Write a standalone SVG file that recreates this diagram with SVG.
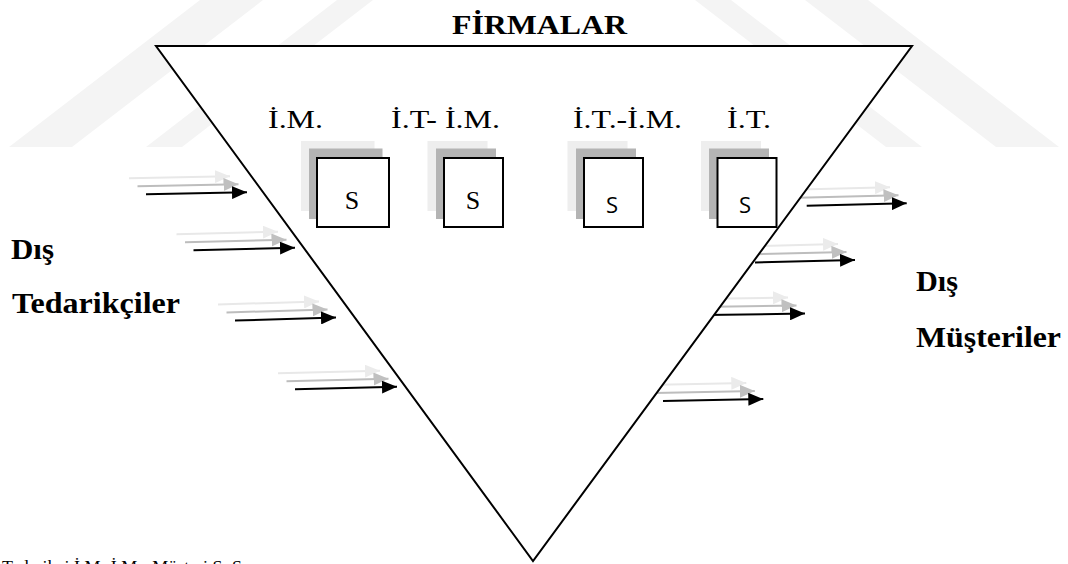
<svg xmlns="http://www.w3.org/2000/svg" width="1068" height="564" viewBox="0 0 1068 564">
  <defs>
    <style>
      .bold { font-family: "Liberation Serif", "Times New Roman", serif; font-weight: bold; fill: #000; }
      .lbl { font-family: "Liberation Serif", "Times New Roman", serif; font-size: 25px; fill: #000; }
      .s-serif { font-family: "Liberation Serif", "Times New Roman", serif; font-size: 26px; fill: #000; text-anchor: middle; }
      .s-sans { font-family: "Open Sans", "Liberation Sans", sans-serif; font-size: 22px; fill: #000; text-anchor: middle; }
      .shade-light { fill: #eeeeee; }
      .shade-mid { fill: #b4b4b4; }
      .box { fill: #ffffff; stroke: #000; stroke-width: 2; }
      .a-black { stroke: #000; stroke-width: 2; fill: none; marker-end: url(#head-black); }
      .a-mid { stroke: #bdbdbd; stroke-width: 2; fill: none; marker-end: url(#head-mid); }
      .a-light { stroke: #e8e8e8; stroke-width: 2; fill: none; marker-end: url(#head-light); }
      .wm { fill: #f4f4f4; }
    </style>
    <marker id="head-black" markerUnits="userSpaceOnUse" markerWidth="15" markerHeight="13" refX="15" refY="6.5" orient="auto">
      <path d="M0,0 L15,6.5 L0,13 z" fill="#000"/>
    </marker>
    <marker id="head-mid" markerUnits="userSpaceOnUse" markerWidth="15" markerHeight="13" refX="15" refY="6.5" orient="auto">
      <path d="M0,0 L15,6.5 L0,13 z" fill="#c0c0c0"/>
    </marker>
    <marker id="head-light" markerUnits="userSpaceOnUse" markerWidth="15" markerHeight="13" refX="15" refY="6.5" orient="auto">
      <path d="M0,0 L15,6.5 L0,13 z" fill="#ebebeb"/>
    </marker>
  </defs>

  <rect x="0" y="0" width="1068" height="564" fill="#ffffff"/>

  <!-- faint background watermark bands -->
  <g id="watermark">
    <polygon class="wm" points="200,0 263,0 72,147 9,147"/>
    <polygon class="wm" points="337,0 373,0 182,147 146,147"/>
    <polygon class="wm" points="868,0 805,0 996,147 1059,147"/>
    <polygon class="wm" points="731,0 695,0 886,147 922,147"/>
  </g>

  <!-- flow arrows: each is a black arrow with two grey echoes offset up-left -->
  <g id="connectors">
    <!-- inbound (left) -->
    <line class="a-light" x1="129" y1="178.3" x2="230" y2="176.3"/>
    <line class="a-mid" x1="137.5" y1="186.3" x2="238.5" y2="184.3"/>
    <line class="a-black" x1="146" y1="194.3" x2="247" y2="192.3"/>

    <line class="a-light" x1="176.5" y1="234.3" x2="278" y2="231.7"/>
    <line class="a-mid" x1="185" y1="242.3" x2="286.5" y2="239.7"/>
    <line class="a-black" x1="193.5" y1="250.3" x2="295" y2="247.7"/>

    <line class="a-light" x1="218" y1="304.5" x2="319" y2="301.5"/>
    <line class="a-mid" x1="226.5" y1="312.5" x2="327.5" y2="309.5"/>
    <line class="a-black" x1="235" y1="320.5" x2="336" y2="317.5"/>

    <line class="a-light" x1="278" y1="373.3" x2="380" y2="370.7"/>
    <line class="a-mid" x1="286.5" y1="381.3" x2="388.5" y2="378.7"/>
    <line class="a-black" x1="295" y1="389.3" x2="397" y2="386.7"/>

    <!-- outbound (right); tails run under the triangle -->
    <line class="a-light" x1="790" y1="189.8" x2="890" y2="187.3"/>
    <line class="a-mid" x1="798.5" y1="197.8" x2="898.5" y2="195.3"/>
    <line class="a-black" x1="806.7" y1="205.8" x2="906.7" y2="203.3"/>

    <line class="a-light" x1="738" y1="246.5" x2="838" y2="244"/>
    <line class="a-mid" x1="746.5" y1="254.5" x2="846.5" y2="252"/>
    <line class="a-black" x1="755" y1="262.5" x2="855" y2="260"/>

    <line class="a-light" x1="688" y1="299" x2="788" y2="297.6"/>
    <line class="a-mid" x1="696.5" y1="307" x2="796.5" y2="305.6"/>
    <line class="a-black" x1="705" y1="315" x2="805" y2="313.6"/>

    <line class="a-light" x1="646" y1="385" x2="746.3" y2="383"/>
    <line class="a-mid" x1="654.5" y1="393" x2="754.8" y2="391"/>
    <line class="a-black" x1="663" y1="401" x2="763.3" y2="399"/>
  </g>

  <!-- inverted triangle: the firms -->
  <g id="firms">
    <polygon points="156,46 912,46 533,561" fill="#ffffff" stroke="#000" stroke-width="2" stroke-linejoin="miter"/>
    <text class="bold" x="452" y="34" font-size="28" textLength="175" lengthAdjust="spacingAndGlyphs">FİRMALAR</text>
  </g>

  <!-- unit labels -->
  <g id="unit-labels">
    <text class="lbl" x="268" y="128" textLength="55" lengthAdjust="spacingAndGlyphs">İ.M.</text>
    <text class="lbl" x="391" y="128" textLength="109" lengthAdjust="spacingAndGlyphs">İ.T- İ.M.</text>
    <text class="lbl" x="573" y="128" textLength="109" lengthAdjust="spacingAndGlyphs">İ.T.-İ.M.</text>
    <text class="lbl" x="727" y="128" textLength="44" lengthAdjust="spacingAndGlyphs">İ.T.</text>
  </g>

  <!-- stacked unit boxes -->
  <g id="unit-1">
    <rect class="shade-light" x="301" y="141" width="73.5" height="70"/>
    <rect class="shade-mid" x="309" y="148.5" width="73.5" height="70.5"/>
    <rect class="box" x="317" y="158" width="72" height="69"/>
    <text class="s-serif" x="352" y="209">S</text>
  </g>
  <g id="unit-2">
    <rect class="shade-light" x="427.5" y="141" width="60" height="70"/>
    <rect class="shade-mid" x="436" y="148.5" width="60" height="70.5"/>
    <rect class="box" x="444" y="158" width="59" height="69"/>
    <text class="s-serif" x="473" y="209">S</text>
  </g>
  <g id="unit-3">
    <rect class="shade-light" x="567.5" y="141" width="60" height="70"/>
    <rect class="shade-mid" x="576" y="148.5" width="60" height="70.5"/>
    <rect class="box" x="584" y="158" width="59" height="69"/>
    <text class="s-sans" x="612" y="213">S</text>
  </g>
  <g id="unit-4">
    <rect class="shade-light" x="701" y="141" width="60" height="70"/>
    <rect class="shade-mid" x="709" y="148.5" width="60" height="70.5"/>
    <rect class="box" x="717.5" y="158" width="59" height="69"/>
    <text class="s-sans" x="745" y="213">S</text>
  </g>

  <!-- external parties -->
  <g id="suppliers">
    <text class="bold" x="11" y="259" font-size="29" textLength="43" lengthAdjust="spacingAndGlyphs">Dış</text>
    <text class="bold" x="12" y="313" font-size="29" textLength="168" lengthAdjust="spacingAndGlyphs">Tedarikçiler</text>
  </g>
  <g id="customers">
    <text class="bold" x="916" y="291" font-size="29" textLength="42" lengthAdjust="spacingAndGlyphs">Dış</text>
    <text class="bold" x="916" y="347" font-size="29" textLength="145" lengthAdjust="spacingAndGlyphs">Müşteriler</text>
  </g>

  <!-- legend line, running off the bottom edge -->
  <text x="2" y="572" font-family="Liberation Serif, Times New Roman, serif" font-size="17" fill="#000" textLength="240" lengthAdjust="spacingAndGlyphs">Tedarikçi İ.M.-İ.M.- Müşteri S: S</text>
</svg>
